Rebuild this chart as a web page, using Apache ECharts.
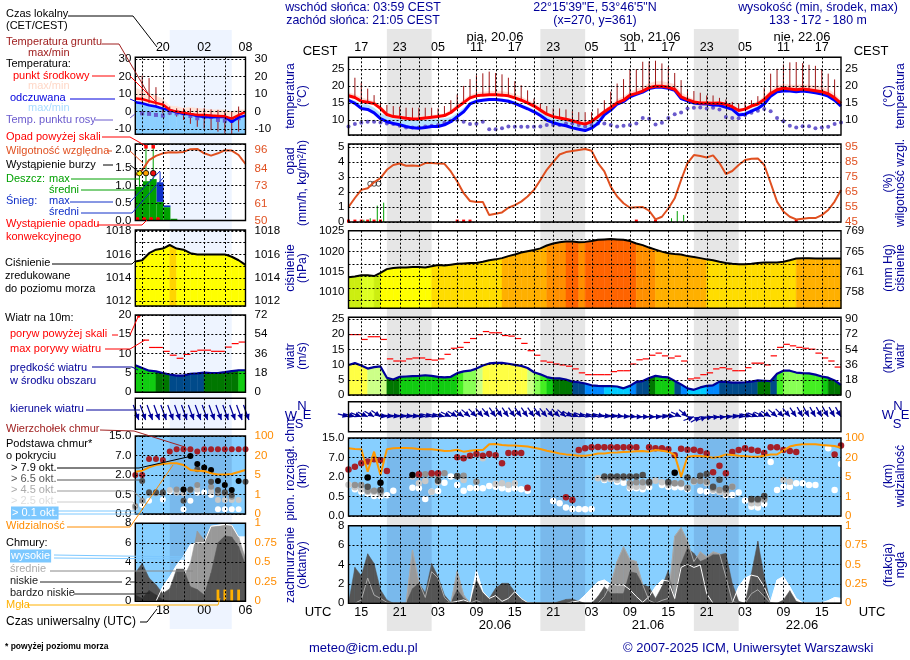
<!DOCTYPE html>
<html>
<head>
<meta charset="utf-8">
<title>meteogram</title>
<script src="https://cdn.jsdelivr.net/npm/echarts@6/dist/echarts.min.js"></script>
<style>html,body{margin:0;padding:0;background:#fff}#chart{width:910px;height:660px}</style>
</head>
<body>
<div id="chart"></div>
<script>
// hours are counted from the first column: main chart 13 UTC 19.06, side chart 14 UTC
var cestTicks = ['17','23','05','11','17','23','05','11','17','23','05','11','17'];
var utcTicks = ['15','21','03','09','15','21','03','09','15','21','03','09','15'];
var sideCestTicks = ['20','02','08'];
var sideUtcTicks = ['18','00','06'];
var baseLabels = ['0.0','0.5','2.0','7.0','15.0'];
var visLabels = ['0','1','5','20','100'];
var mmHgLabels = {1010:'758',1015:'761',1020:'765',1025:'769'};
var nightSpans = [[6,13],[30,37],[54,61]];
var sideNightSpans = [[5,14]];

// main chart, one value per hour
var tempMid = [17.1,16.6,15.5,15.2,14.8,13.4,11.6,11,10.8,10.5,10.3,10.4,10.6,10.8,11,11.3,12.2,13.7,15.1,16.5,17.1,17.3,17.4,17.4,17.3,17.1,16.5,15.8,15,14.1,12.9,11.7,11,10.6,10.2,9.8,9.2,8.8,9.5,11,12.4,13.7,15,15.8,17.3,17.8,18.5,19.5,19.9,19.9,19.6,19,16.8,16,15.3,15,15,14.9,15,14.6,13.9,12.8,13.2,14.1,14.7,16,17.8,18.9,19.3,19.1,18.9,19.1,18.9,18.6,18.3,17.7,16.5,14.9];
var tempMax = [18,17.5,16.5,16,15.5,14.2,12.2,11.6,11.3,11,10.9,11,11.2,11.4,11.6,11.8,13,14.5,16,17.3,18,18.2,18.4,18.5,18.4,18.1,17.5,16.8,15.9,15,13.8,12.4,11.6,11.1,10.7,10.2,9.8,9.4,10,11.6,13,14.4,16,16.9,18.2,19,19.7,20.7,21.3,21.3,21,20.4,18,17,16,15.6,15.5,15.4,15.4,15,14.3,13.2,13.6,14.6,15.5,17,18.8,20,20.5,20.3,20.2,20.4,20.2,20,19.7,19,17.7,15.8];
var apparent = [15.8,14.9,13.4,13.1,12.1,10.4,9.5,9,8.6,8.1,7.7,7.6,7.8,8.1,8.1,8.6,9.5,11,12.4,14.7,15.5,15.8,16,16,15.8,15.5,14.9,14.1,13.3,12.4,11.3,10,9.2,8.7,8.3,7.7,7.3,6.9,7.6,9,11.5,12.9,14.7,15.4,16.8,17.5,18.2,19.2,19.6,19.6,19.3,18.7,16.3,15.6,15,14.8,14.7,14.4,14.3,13.7,13.1,11.5,11.7,12.6,13.4,14.7,17,18.3,18.5,18.5,18.3,18.5,18.3,18,17.6,17,15.8,14.1];
var apparentMax = [16.2,15.6,14.6,14.5,13.5,12,11,10.3,10.3,10.2,10,9.8,10,10.2,10.3,10.4,10.8,12,13.5,15.2,16,16.2,16.4,16.4,16.2,16,15.4,14.6,13.9,13,12.2,11,10.2,10,9.8,9.5,9,8.7,9.2,10.4,12,13.4,15,15.7,17,17.7,18.4,19.4,19.9,19.9,19.6,19,16.7,15.9,15.2,15,14.9,14.6,14.5,14,13.5,12.1,12.3,13.2,14,15,17.3,18.6,18.9,18.8,18.6,18.8,18.6,18.3,17.9,17.3,16.1,14.4];
var groundMax = [17.1,22.4,20.9,19.2,17.3,15,14.4,14.1,13.9,13.6,13.6,13.6,13.6,13.6,13.4,14.1,15.8,17.5,20,22,23.1,23.7,24.2,23.8,23.4,22.4,21.4,20.2,18.7,16.3,14.9,14.1,13.4,13.4,13.1,12.6,12.3,12.3,12.3,13.4,15.8,18.3,20.7,22,25,24.9,27.1,27.2,27.4,26.6,25.7,23.8,21.7,19,18.5,18,17.2,17.2,16.5,16,15.3,14.9,15.3,15.8,17,19.5,23.6,25,26.3,26.9,27,26.7,26.2,25.9,25,23.6,21.9];
var dewPoint = [8.1,8.8,9.2,9.5,9.5,9.3,9,8.8,8.3,7.8,7.8,7.8,8.1,8.3,8.5,9.2,9.8,10,9.5,8.8,8.9,9.5,7.3,7.3,7.6,8.1,8,8,8,8,8.1,8.5,8.5,8.5,9,9,8.5,8.1,8.5,9,9,8.5,8.1,8.3,8.5,9,10.6,10.4,8.7,9.2,10.6,11.7,12.2,13.4,13.6,13.7,13.4,13.6,13.1,10.9,10.6,10.5,11.5,12.1,12.7,13.2,12.6,10.6,9.6,8.3,7.8,8.2,8.2,7.6,7.8,8,8.8,9.3];
var humidity = [55,61,66.4,67.5,71.5,74.2,79.8,83,84,82.5,82.7,82.3,84.3,84.3,84,83.8,78.7,72,64.2,59,58.4,58.4,49.6,50.5,51.4,54.5,56.3,58.6,62,66.4,73,79.8,85,90,91.6,92.3,93,93.7,92.5,84.3,78.7,68.6,62,57.5,54.5,54.8,55,52.5,46.7,48.5,54,60.8,73,84.3,89.6,89,88,89.4,84.3,77,79,83,86.3,87.2,87.4,83,71,58.6,52,48.5,46.7,47.2,47.6,47.6,49.6,53,58.6,66.4];
var rainAt = [2.4,3.4,4.5,5.5,50.5,51.4,52.4];
var rainMax = [0.15,0.25,1.09,1.29,0.25,0.73,0.47];
var stormAt = [3.4,4,4.7];
var stormLevel = [2.55,2.55,2.55];
var convectiveAt = [0,1,2,3,4,5,17,18,19,45,48,70];
var pressure = [1013.7,1013.9,1014.2,1014.2,1014,1014.8,1015.7,1016,1016.1,1016.1,1016.2,1016.2,1016.1,1016.4,1016.7,1016.6,1016.8,1017,1017.1,1017.2,1017.2,1017.5,1017.9,1018.1,1018.4,1018.9,1019.3,1019.8,1020.1,1020.4,1020.8,1021.5,1022,1022.3,1022.5,1022.5,1022.3,1022.4,1022.6,1022.9,1023,1023.1,1023,1022.9,1022.6,1022,1021.6,1021,1020.5,1020,1019.6,1019.4,1019.3,1018.9,1018.7,1018.4,1018.1,1017.9,1017.5,1017.2,1017,1016.9,1016.9,1017,1017.2,1017.3,1017.3,1017.3,1017.5,1017.9,1018.3,1018.4,1018.4,1018.3,1018.3,1018.3,1018.3,1018.3];
var windSpeed = [9.9,10.5,9.7,8.7,9.2,9.4,5.7,5.1,6,6.1,6.2,6.3,6.5,6.3,6,5.8,6,7.2,7.8,8,8.7,9.7,10.4,10.6,10.6,10.3,9.9,9.6,8.9,7.5,6.8,5.9,5.5,5.5,5.1,4.4,4.2,3.8,3.2,3,2.9,2.9,2.8,2.2,3,4.3,4.6,5.6,6.3,6,5.8,4.6,3.5,2.2,1.7,2.5,3,3.2,4.4,4.3,4.1,4.1,4.2,4.4,4.8,4.7,4.6,7,8,8,7.4,7.2,7.1,6.7,6.1,5.7,4.8,3.3];
var windGust = [19.9,19.9,18.3,19.2,19.2,18.3,11.9,11.2,11.2,11.9,12.2,12.2,11.7,11.5,11.9,13.4,15.4,15.7,17.3,18.6,19.9,20.9,20.5,20.5,19.6,19.4,18.6,17,14.6,13.1,11.2,10.8,10.2,9.9,9.5,8.6,7.3,6.7,6.7,6.7,6.7,7.7,8,8,10.2,11.6,11.9,13.1,13.8,12.9,12.2,12.8,11.2,5.3,5.6,6.7,7.3,8.6,9,8.6,8,8,9,10.5,10.5,9.9,12.9,15.7,16.7,16.2,15.7,15.4,15.1,13.8,12.2,11.2,9.2];
var windFrom = [285,285,290,295,300,305,280,280,280,280,280,280,280,285,285,285,295,300,305,310,315,320,320,325,325,325,325,325,325,325,325,320,320,315,310,300,290,290,285,285,285,280,280,280,275,275,270,270,270,270,275,280,295,310,250,240,250,260,265,265,270,275,280,285,290,295,300,310,315,320,325,330,330,330,330,330,330,330];

// cloud base and visibility sit on a stepped axis: 0 = 0 km, 1 = 0.5, 2 = 2, 3 = 7, 4 = 15
var visibility = [3.47,3.44,3.42,2.27,3.3,2.1,3.42,3.47,3.49,3.49,3.47,3.44,3.42,3.42,3.38,3.33,3.35,3.4,3.3,3.35,3.38,3.38,3.68,3.69,3.64,3.62,3.62,3.59,3.56,3.5,3.44,3.35,3.28,3.21,3.16,3.13,3.09,3.09,3.13,3.21,3.21,3.25,3.26,3.28,3.3,3.32,3.33,3.3,3.38,3.35,3.3,3.13,2.02,3.04,3.08,3.08,3.04,2.99,3.04,3.16,3.13,3.09,3.08,3.04,3.04,3.09,3.15,3.16,3.35,3.56,3.64,3.68,3.68,3.68,3.64,3.62,3.59,3.5];
var cloudTop = [[0,2.39],[1,2.53],[2,2.7],[3,2.79],[4,2.91],[5,2.87],[6,2.31],[11,2.14],[13,2.19],[14,2.19],[17,3.01],[18,2.96],[19,3.09],[20,3.18],[21,3.09],[22,3.18],[23,3.11],[24,2.7],[25,3.23],[26,3.23],[27,3.23],[28,1.45],[34,0.96],[35,0.82],[36,3.38],[37,3.47],[38,3.52],[39,3.54],[40,3.52],[41,3.52],[42,3.52],[43,3.52],[44,3.52],[45,3.52],[47,3.52],[48,3.47],[49,3.47],[50,3.42],[51,3.11],[52,3.45],[53,3.4],[54,3.4],[55,3.33],[56,3.2],[57,2.24],[58,2.58],[59,2.19],[60,3.28],[61,3.38],[62,3.47],[63,3.4],[64,3.35],[65,3.23],[66,3.52],[67,3.52],[68,3.38],[69,3.33],[70,3.28],[76,3.15],[77,3.62]];
var base79 = [[3,1.98],[5,1.71],[10,2.1],[51,2.22]];
var base65 = [[3,1.5],[5,1.33],[14,1.81],[17,2.05],[40,2.03],[41,2.03],[42,2.03],[43,2.03],[44,2.03],[45,2.03],[46,2.1],[47,1.74],[50,1.74],[53,1.97],[55,2.07],[56,2.15],[57,1.5],[58,1.86],[59,1.42],[63,0.87],[64,0.87],[65,1.03]];
var base45 = [[1,1.59],[2,1.59],[3,1.3],[4,1.3],[5,1.25],[11,2.1],[12,2.14],[13,2.14],[14,2.1],[15,2.19],[17,2.02],[18,2.07],[20,1.76],[40,1.97],[41,1.97],[42,1.97],[43,1.97],[44,1.68],[45,1.73],[46,1.73],[47,1.68],[50,1.68],[51,1.68],[52,1.68],[53,1.45],[54,1.79],[55,1.79],[56,1.76],[57,1.42],[58,1.33],[59,1.33],[60,1.5],[63,0.82],[64,0.82],[65,0.87]];
var base25 = [[0,1.6],[1,1.47],[2,1.37],[3,1.25],[4,1.25],[5,1.16],[10,2.02],[11,1.68],[12,1.79],[13,1.25],[14,1.73],[18,1.85],[21,2.96],[23,1.64],[24,1.68],[25,1.59],[26,1.68],[28,1.42],[39,1.93],[40,1.9],[41,1.9],[42,1.85],[44,1.5],[45,1.5],[46,1.5],[47,1.76],[48,1.81],[49,1.73],[50,1.59],[51,1.68],[52,1.64],[53,1.42],[54,1.76],[55,1.85],[56,1.68],[57,1.33],[58,1.25],[59,1.16],[60,1.5],[63,0.65],[64,0.65],[65,0.82],[68,1.85],[69,1.76]];
var base01 = [[0,1.6],[1,1.37],[2,1.25],[3,1.16],[4,1.03],[5,1.03],[6,1.06],[7,1.3],[10,1.45],[11,1.42],[12,0.87],[13,1.25],[14,1.28],[15,1.71],[16,2.02],[17,1.59],[18,1.3],[19,1.44],[20,1.42],[21,1.42],[22,1.54],[23,1.5],[24,1.42],[25,1.37],[26,1.42],[27,1.37],[28,1.3],[32,0.77],[33,0.65],[34,0.43],[35,0.36],[36,0.36],[37,0.34],[38,0.36],[40,1.85],[41,1.9],[42,1.76],[43,1.71],[44,1.42],[45,1.42],[46,1.37],[47,1.47],[49,1.59],[50,1.5],[51,1.47],[52,1.47],[53,1.37],[55,1.3],[56,1.25],[57,1.3],[58,1.25],[59,1.08],[60,1.08],[61,1.21],[62,0.79],[63,0.48],[64,0.44],[65,0.62],[66,2.77],[67,1.33],[68,1.5],[69,1.5],[70,1.68],[71,1.68],[72,1.59],[73,1.59],[75,3.47],[76,1.33],[77,2.67]];

var cloudHigh = [0,0,0,0,0,0,0,0,0,0,0,0,0,0,0,0,0.07,0.2,0.35,0.1,3.4,1.2,0.5,0.8,0.2,0.5,1.2,0.5,0.07,0,0,0,0,0,0,0.14,0.24,0.85,1.55,2.2,2.4,1.96,1.9,1.9,1.4,0.7,0.1,0.7,1.7,2.4,2.3,0.5,3.7,4.05,3.7,3.95,1,0,0,0,0.05,1.7,2.6,2.9,2.75,1.7,0.17,2.4,2.75,1.7,0.5,0.05,0,0,0.05,0.27,0.6,0.5];
var cloudMid = [0,0,0.35,2.6,0.85,0.5,0.1,0,0,0,5.5,2.2,0.6,3.26,2.6,0.6,0,3.3,0.85,0,0.3,0,0,0,0,0,0,0,0,0,0,0,0,0,0,0,0,0,0,0,0.7,2,4.3,5.84,4.5,4.3,1.9,0.3,0,0.3,0.5,6.9,7.8,6.4,4.3,5.3,4.8,5.3,5.1,2.75,0.2,0,0,1,1.4,0.7,0,0,0,0,0,0,0,0,0,0,0,0];
var cloudLow = [0,3.7,2.85,5.1,4.1,1.4,0.35,0,0,0,1.5,2.06,1.1,4.1,2.75,0.85,0.07,1.4,0.5,0.1,2.4,1.1,0.5,1.55,2.06,2.06,1.2,0.5,0.07,0,0,0,0,0.2,0.4,0.45,0.2,0,0,0.7,1.7,1,1,1,3.26,3.1,1.9,1.7,0.5,1.7,3.4,0.2,4.1,5.7,5.15,4.3,4.6,5,5,5.15,2.06,0.2,0,3.1,6.4,2.75,0.07,0,0.35,1.3,0.2,0,0,0,0,0,0,0];

// side chart (legend panels), one value per hour
var sideMid = [7.5,7.2,6,5,4,1,0,-0.6,-1.3,-1.9,-1.9,-2.3,-2.5,-2.7,-4,-2,-0.2];
var sideMax = [13.5,12,10.6,9,7.1,3.3,2.9,1.9,2.5,1.9,1.5,1,1,1,0,1,1];
var sideApparent = [5.4,4.8,3.6,2.9,1.7,0.8,-0.4,-1.2,-1.5,-2.5,-3.1,-3.3,-3.1,-2.9,-6,-3.3,-2.3];
var sideAppMin = [-13,-13,-13,-13,-13,-13,-13,-13,-13,-13,-13,-13,-13,-13,-13,-13,-13];
var sideGroundMax = [7.5,20.6,19.2,14,5.8,2.9,1.9,1.9,1.9,1.9,1.9,1.3,1,0,0,2.9];
var sideGroundMin = [7.5,5.8,4.8,2.9,-1,-2,-2.9,-4.8,-7,-8.7,-9.6,-10.6,-11.5,-12.5,-12.9,-11.5];
var sideDew = [null,-1,-1.3,-1.9,-2.3,-0.6,-1,-1,-2.5,-3.8,-2.9,-2.9,-4.8,-5.2,-5.2,-3.8,null];
var sideHumidity = [79.7,83,89.6,92.3,94,94.7,94.5,94.9,96.7,96.9,94,92.5,94,96,95.8,92.9,87];
var sideRain = [0.96,1.12,1.18,0.53,0.38,0.05];
var sideRainMaxAt = [0.6,1.55,2.6];
var sideRainMax = [1.35,2.1,2.1];
var sideRainBase = [0.96,1.12,1.18];
var sideSnowTop = [1.09,0.43];
var sideSnowBase = [0.53,0.38];
var sidePressure = [1015.4,1015.5,1016.1,1016.4,1016.5,1016.8,1016.5,1016.4,1016.1,1016,1016,1016,1016,1016,1015.8,1015.5,1015.1];
var sideWind = [7,6.3,5.6,5.4,5,4.6,4.3,4.3,4.8,4.9,5.1,5,5,5.2,5.5,5.7,5.7];
var sideGust = [null,13.5,11.6,11.6,10.6,9.6,8.8,9.8,10.6,10.9,10.9,10.6,10.6,11.7,12.6,13];
var sideWindFrom = [340,340,340,340,340,340,340,340,340,340,340,340,340,340,340,340,340];
var sideVis = [2.17,2.22,2.39,2.51,2.56,2.6,2.6,2.51,2.26,2.22,2.2,2.09,2.03,2.03,2.05,2.15,2.26];
var sideTop = [[0,2],[1,2],[2,2.82],[3,2.82],[4,2.77],[5,3.2],[6,3.32],[7,3.32],[8,3.32],[9,3.2],[10,3.32],[11,3.32],[12,3.32],[13,3.32],[14,3.32],[15,3.32],[16,3.32]];
var sideBase79 = [[7,1.26],[8,2.97],[9,2.56],[10,2.38],[11,2.26],[12,1.69],[13,1.49],[14,1.23],[15,1.69]];
var sideBase65 = [[1,1.69],[2,1.11],[3,1.11],[4,1.11],[7,0.68],[8,1.26],[9,2.29],[11,1.66],[12,1.23],[13,1.11],[14,0.97],[16,1.66]];
var sideBase45 = [[0,0.41],[1,0.68],[2,1.06],[3,1.06],[4,1.06],[6,1.26],[7,1.26],[8,1.23],[9,1.49],[10,2.26],[11,1.4],[12,1.06],[13,1.06],[14,0.89]];
var sideBase25 = [[0,0.29],[5,1.23],[6,1.09],[7,1.06],[8,1.23],[9,1.26],[11,1.15],[12,0.72],[13,0.72],[14,0.72],[15,0.72]];
var sideBase01 = [[1,0.46],[2,0.68],[4,0.75],[5,1.15],[6,1.15],[7,0.24],[8,0.68],[9,1.09],[10,1.12],[11,0.97],[12,0.24],[13,0.24],[14,0.24],[15,0.24]];
var sideHigh = [0,0,0,0,1.5,2.5,3.7,4.6,5.8,6,6,7.7,7.8,7.9,7.8,6.6,6.6];
var sideMidCloud = [0,0,0,0,0,0.8,1.3,2.4,3.9,7.2,6.3,7.7,7.7,7.8,7.8,6.6,4.4];
var sideLow = [2.9,3.9,2.4,1.7,0.8,1.3,3.3,3.3,1.5,1.2,0.65,2.9,6,6.7,6.6,5.6,3.7];
var sideVeryLow = [0.65,0.3,1.1,0.65,0.14,0,0,0,0,0,0,0,0,0,0,0,0];
var sideFogAt = [12,13,14,15];
var sideFog = [0.15,0.15,0.15,0.15];

var FONT = '"Liberation Sans", Arial, sans-serif';
var NAVY = '#000099';
var ORANGE = '#ff8c00';
var RUST = '#e05020';
var CLOUD_BG = '#87cfff';
var CLOUD_NIGHT = '#79b9ec';

var option = {animation: false, backgroundColor: '#fff', grid: [], xAxis: [], yAxis: [], series: [], graphic: {elements: []}};
var mainBox = {left: 348.5, width: 492.5, count: 77, gridX: [2,5,8,11,14,17,20,23,26,29,32,35,38,41,44,47,50,53,56,59,62,65,68,71,74], labelX: [2,8,14,20,26,32,38,44,50,56,62,68,74]};
var sideBox = {left: 135.3, width: 110.2, count: 16, gridX: [1,4,7,10,13], labelX: [4,10,16]};

function hidden() { return {show: false}; }

// one grid with a left and a right value axis; returns the panel number
function addPanel(box, top, bottom, cfg) {
    var idx = option.grid.length;
    option.grid.push({left: box.left, width: box.width, top: top, height: bottom - top, show: cfg.noFrame ? false : true, z: 6,
        backgroundColor: 'transparent', borderColor: '#000', borderWidth: cfg.noFrame ? 0 : 1.4, containLabel: false});
    var x = {gridIndex: idx, type: 'value', min: 0, max: box.count, show: !cfg.noFrame, z: 5,
        axisLine: hidden(), axisTick: hidden(), splitLine: hidden(), axisLabel: {show: false}};
    if (cfg.xLabels) {
        x.position = cfg.xPos;
        x.axisLabel = {show: true, customValues: box.labelX, color: '#000', fontSize: 12.5, fontFamily: FONT, margin: 3,
            formatter: function (v) { return cfg.xLabels[box.labelX.indexOf(v)]; }};
    }
    option.xAxis.push(x);
    var labelFmt = cfg.fmt || function (v) { return String(v); };
    option.yAxis.push({gridIndex: idx, type: 'value', position: 'left', min: cfg.min, max: cfg.max, show: !cfg.noFrame, z: 5,
        axisLine: hidden(), axisTick: hidden(),
        splitLine: {show: !!cfg.ticks, customValues: cfg.ticks, lineStyle: {color: '#000', type: [2, 2], width: 1}},
        axisLabel: {show: !!cfg.ticks, customValues: cfg.ticks, formatter: labelFmt, color: '#000', fontSize: 11.5, fontFamily: FONT, margin: 4}});
    var rMin = cfg.rMin === undefined ? cfg.min : cfg.rMin;
    var rMax = cfg.rMax === undefined ? cfg.max : cfg.rMax;
    var rTicks = cfg.rTicks || cfg.ticks;
    option.yAxis.push({gridIndex: idx, type: 'value', position: 'right', min: rMin, max: rMax, show: !cfg.noFrame, z: 5,
        axisLine: hidden(), axisTick: hidden(), splitLine: hidden(),
        axisLabel: {show: !!rTicks, customValues: rTicks, formatter: cfg.rFmt || labelFmt, color: cfg.rColor || '#000', fontSize: 11.5, fontFamily: FONT, margin: box === sideBox ? 9 : 4}});
    if (!cfg.noFrame) {
        // hour lines snapped to whole pixels so every dash stays crisp
        custom(idx, false, box.gridX.map(function (h) { return [h, cfg.min, cfg.max]; }), 5, function (params, api) {
            var a = api.coord([api.value(0), api.value(1)]);
            var b = api.coord([api.value(0), api.value(2)]);
            var px = Math.round(a[0]) + 0.5;
            return {type: 'line', shape: {x1: px, y1: b[1], x2: px, y2: a[1]}, style: {stroke: '#000', lineWidth: 1, lineDash: [2, 2]}};
        });
    }
    return idx;
}

function indexed(arr) {
    var out = [];
    arr.forEach(function (v, i) { if (v !== null) out.push([i, v]); });
    return out;
}

function custom(p, right, rows, z, renderItem) {
    option.series.push({type: 'custom', silent: true, xAxisIndex: p, yAxisIndex: p * 2 + (right ? 1 : 0), z: z, data: rows, renderItem: renderItem});
}

// polygon strip between two hourly curves; color can depend on the value
function fillBetween(p, lo, hi, color, z) {
    var rows = [];
    for (var i = 0; i < hi.length - 1; i++) {
        rows.push([i, lo[i], hi[i], lo[i + 1], hi[i + 1]]);
    }
    custom(p, false, rows, z, function (params, api) {
        var i = api.value(0);
        var c = typeof color === 'function' ? color(api.value(2)) : color;
        return {type: 'polygon', shape: {points: [
            api.coord([i, api.value(1)]), api.coord([i + 1, api.value(3)]),
            api.coord([i + 1, api.value(4)]), api.coord([i, api.value(2)])
        ]}, style: {fill: c, stroke: c, lineWidth: 0.5}};
    });
}

function flat(value, n) {
    var out = [];
    for (var i = 0; i < n; i++) out.push(value);
    return out;
}

// rectangles: rows are [x0, x1, y0, y1]
function rects(p, rows, color, z) {
    custom(p, false, rows, z, function (params, api) {
        var a = api.coord([api.value(0), api.value(2)]);
        var b = api.coord([api.value(1), api.value(3)]);
        return {type: 'rect', shape: {x: a[0], y: b[1], width: b[0] - a[0], height: a[1] - b[1]}, style: {fill: color}};
    });
}

// vertical lines: rows are [x, y0, y1]
function vlines(p, rows, color, width, z) {
    custom(p, false, rows, z, function (params, api) {
        var a = api.coord([api.value(0), api.value(1)]);
        var b = api.coord([api.value(0), api.value(2)]);
        return {type: 'line', shape: {x1: a[0], y1: a[1], x2: b[0], y2: b[1]}, style: {stroke: color, lineWidth: width}};
    });
}

function gusts(p, arr, z) {
    custom(p, false, indexed(arr), z, function (params, api) {
        var a = api.coord([api.value(0), api.value(1)]);
        var b = api.coord([api.value(0) + 1, api.value(1)]);
        return {type: 'line', shape: {x1: a[0], y1: a[1], x2: b[0], y2: b[1]}, style: {stroke: '#ff0000', lineWidth: 1.2}};
    });
}

function line(p, right, arr, color, width, z) {
    option.series.push({type: 'line', silent: true, xAxisIndex: p, yAxisIndex: p * 2 + (right ? 1 : 0), data: indexed(arr),
        showSymbol: false, connectNulls: false, z: z, lineStyle: {color: color, width: width}, itemStyle: {color: color}});
}

function dots(p, data, color, size, z, symbol, border) {
    option.series.push({type: 'scatter', silent: true, xAxisIndex: p, yAxisIndex: p * 2, data: data, symbol: symbol || 'circle', symbolSize: size, z: z,
        itemStyle: {color: color, borderColor: border || color, borderWidth: border ? 0.8 : 0, opacity: 1}});
}

function arrows(p, rows, len, yLevel, shift, z) {
    custom(p, false, rows, z, function (params, api) {
        var head = api.coord([api.value(0) + shift, yLevel]);
        var rad = api.value(1) * Math.PI / 180;
        var dx = Math.sin(rad), dy = -Math.cos(rad);
        var px = -dy, py = dx;
        var tail = [head[0] + dx * len, head[1] + dy * len];
        var back = [head[0] + dx * 6, head[1] + dy * 6];
        return {type: 'group', children: [
            {type: 'line', shape: {x1: tail[0], y1: tail[1], x2: head[0], y2: head[1]}, style: {stroke: NAVY, lineWidth: 1.2}},
            {type: 'polygon', shape: {points: [head, [back[0] + px * 2.8, back[1] + py * 2.8], [back[0] - px * 2.8, back[1] - py * 2.8]]}, style: {fill: NAVY}}
        ]};
    });
}

function pressureColor(v) {
    if (v < 1014.1) return '#ccee11';
    if (v < 1014.5) return '#ddff22';
    if (v < 1016.3) return '#ffff00';
    if (v < 1018.3) return '#ffdd00';
    if (v < 1021) return '#ffb000';
    if (v < 1022.4) return '#ff9000';
    return '#ff6400';
}
function sidePressureColor(v) {
    return v > 1016.7 ? '#ffd400' : '#ffff00';
}
function windColor(v) {
    if (v < 2.95) return '#00ccff';
    if (v < 3.9) return '#0088ff';
    if (v < 4.7) return '#004a8a';
    if (v < 5.8) return '#007700';
    if (v < 6.6) return '#11cc11';
    if (v < 7.4) return '#44ee22';
    if (v < 8.2) return '#88ff55';
    if (v < 9.6) return '#ccff88';
    return '#ffff44';
}
function sideWindColor(v) {
    if (v < 4.95) return '#004a8a';
    if (v < 5.55) return '#007700';
    return '#11cc11';
}

// night bands behind the whole column
var bgMain = addPanel(mainBox, 29, 631, {noFrame: true, min: 0, max: 1});
rects(bgMain, nightSpans.map(function (s) { return [s[0], s[1], 0, 1]; }), '#e6e6e6', 0);
var bgSide = addPanel(sideBox, 30, 629, {noFrame: true, min: 0, max: 1});
rects(bgSide, sideNightSpans.map(function (s) { return [s[0], s[1], 0, 1]; }), '#eef4ff', 0);

// temperature
var pT = addPanel(mainBox, 57.3, 135, {min: 5.6, max: 28.4, ticks: [10,15,20,25], xLabels: cestTicks, xPos: 'top'});
fillBetween(pT, tempMid, tempMax, '#ffdcd4', 1);
fillBetween(pT, apparent, apparentMax, '#b4e2ff', 1);
vlines(pT, groundMax.map(function (v, i) { return [i, tempMid[i], v]; }), '#a01818', 1, 2);
dots(pT, indexed(dewPoint), '#6a5acd', 4, 2);
line(pT, false, apparent, '#0000ff', 3, 3);
line(pT, false, tempMid, '#ff0000', 3, 4);

// precipitation and humidity
var pR = addPanel(mainBox, 144, 222, {min: 0, max: 5.2, ticks: [0,1,2,3,4,5], rMin: 45, rMax: 97, rTicks: [45,55,65,75,85,95], rColor: RUST});
vlines(pR, rainAt.map(function (x, i) { return [x, 0, rainMax[i]]; }), '#00a000', 1, 2);
dots(pR, convectiveAt.map(function (x) { return [x, 0.06]; }), '#ff0000', 3, 3, 'rect');
dots(pR, stormAt.map(function (x, i) { return [x, stormLevel[i]]; }), 'transparent', 5, 3, 'circle', '#222');
line(pR, true, humidity, RUST, 2, 4);

// pressure
var pP = addPanel(mainBox, 230.7, 308.3, {min: 1006.06, max: 1025.15, ticks: [1010,1015,1020,1025],
    rFmt: function (v) { return mmHgLabels[v]; }});
fillBetween(pP, flat(1006.06, pressure.length), pressure, pressureColor, 2);
line(pP, false, pressure, '#000', 2, 3);

// wind
var pW = addPanel(mainBox, 317.3, 395, {min: 0, max: 25.6, ticks: [0,5,10,15,20,25], rMin: 0, rMax: 92.16, rTicks: [0,18,36,54,72,90]});
fillBetween(pW, flat(0, windSpeed.length), windSpeed, windColor, 2);
line(pW, false, windSpeed, '#000099', 2.2, 3);
gusts(pW, windGust, 3);

// wind direction
var pD = addPanel(mainBox, 401.7, 431.7, {min: 0, max: 1});
arrows(pD, indexed(windFrom), 11, 0.5, 0, 3);

// cloud base
var pB = addPanel(mainBox, 438, 516, {min: 0, max: 4, ticks: [0,1,2,3,4], rColor: ORANGE,
    fmt: function (v) { return baseLabels[v]; }, rFmt: function (v) { return visLabels[v]; }});
rects(pB, [[0, 77, 0, 4]], CLOUD_BG, 1);
rects(pB, nightSpans.map(function (s) { return [s[0], s[1], 0, 4]; }), CLOUD_NIGHT, 1);
dots(pB, base01, '#ffffff', 6.5, 2);
dots(pB, base25, '#c8c8c8', 6.5, 2);
dots(pB, base45, '#929292', 6.5, 2);
dots(pB, base65, '#505050', 6.5, 2);
dots(pB, base79, '#000000', 6.5, 2);
dots(pB, cloudTop, '#a52028', 6.5, 2);
line(pB, false, visibility, '#ff9900', 2, 3);

// cloud cover
var pC = addPanel(mainBox, 525.7, 603.3, {min: 0, max: 8, ticks: [0,2,4,6,8], rMin: 0, rMax: 1, rTicks: [0,0.25,0.5,0.75,1], rColor: ORANGE, xLabels: utcTicks, xPos: 'bottom'});
rects(pC, [[0, 77, 0, 8]], CLOUD_BG, 1);
rects(pC, nightSpans.map(function (s) { return [s[0], s[1], 0, 8]; }), CLOUD_NIGHT, 1);
var noCloud = flat(0, cloudHigh.length);
fillBetween(pC, noCloud, cloudHigh, '#ffffff', 2);
fillBetween(pC, noCloud, cloudMid, '#999999', 2);
fillBetween(pC, noCloud, cloudLow, '#555555', 2);
line(pC, false, cloudHigh, '#ffffff', 1, 3);
line(pC, false, cloudMid, '#aaaaaa', 1, 3);

// side chart: temperature
var sT = addPanel(sideBox, 57.3, 134.3, {min: -13, max: 31.1, ticks: [-10,0,10,20,30], xLabels: sideCestTicks, xPos: 'top'});
fillBetween(sT, sideApparent, sideMax, '#ffe4d8', 1);
fillBetween(sT, sideAppMin, sideApparent, '#8cd0ff', 1);
vlines(sT, sideGroundMax.map(function (v, i) { return [i, sideGroundMin[i], v]; }), '#a01818', 1, 2);
dots(sT, indexed(sideDew), '#6a5acd', 4, 2, 'rect');
line(sT, false, sideApparent, '#0000ff', 2.5, 3);
line(sT, false, sideMid, '#ff0000', 2.5, 4);

// side chart: precipitation and humidity
var sR = addPanel(sideBox, 144, 220.5, {min: 0, max: 2.18, ticks: [0,0.5,1,1.5,2], rMin: 50, rMax: 100.1, rTicks: [50,61,73,84,96], rColor: RUST,
    fmt: function (v) { return v.toFixed(1); }, rFmt: function (v) { return String(v); }});
rects(sR, sideRain.map(function (v, i) { return [i + 0.1, i + 1.1, 0, v]; }), '#00a000', 2);
rects(sR, sideSnowTop.map(function (v, i) { return [i + 3.1, i + 4.1, sideSnowBase[i], v]; }), '#1030c8', 2);
vlines(sR, sideRainMaxAt.map(function (x, i) { return [x, sideRainBase[i], sideRainMax[i]]; }), '#00a000', 1, 3);
vlines(sR, [[3.6, 1.09, 1.39]], '#1030c8', 1, 3);
dots(sR, [[1.55, 2.1], [2.6, 2.1]], '#ff0000', 3.5, 4, 'rect');
dots(sR, [[0.6, 1.35]], '#ffee00', 5.5, 5, 'circle', '#000');
dots(sR, [[1.55, 1.35]], '#ffa000', 5.5, 5, 'circle', '#000');
dots(sR, [[2.6, 1.35]], '#ee1010', 5.5, 5, 'circle', '#000');
dots(sR, [[0.3, 0.04], [1.3, 0.04], [2.3, 0.04], [3.3, 0.04]], '#ff0000', 4, 4);
line(sR, true, sideHumidity, RUST, 2, 4);

// side chart: pressure
var sP = addPanel(sideBox, 230, 306, {min: 1011.6, max: 1018.08, ticks: [1012,1014,1016,1018]});
fillBetween(sP, flat(1011.6, sidePressure.length), sidePressure, sidePressureColor, 2);
line(sP, false, sidePressure, '#000', 2, 3);

// side chart: wind
var sW = addPanel(sideBox, 315, 392.3, {min: 0, max: 20, ticks: [0,5,10,15,20], rMin: 0, rMax: 72, rTicks: [0,18,36,54,72]});
fillBetween(sW, flat(0, sideWind.length), sideWind, sideWindColor, 2);
line(sW, false, sideWind, '#000099', 2.2, 3);
gusts(sW, sideGust, 3);
dots(sW, [[0.5, 19.7]], '#ff0000', 3, 4);

// side chart: wind direction
var sD = addPanel(sideBox, 398.3, 429.3, {min: 0, max: 1});
arrows(sD, indexed(sideWindFrom), 16, 0.3, 0.5, 3);

// side chart: cloud base
var sB = addPanel(sideBox, 436, 514, {min: 0, max: 4, ticks: [0,1,2,3,4], rColor: ORANGE,
    fmt: function (v) { return baseLabels[v]; }, rFmt: function (v) { return visLabels[v]; }});
rects(sB, [[0, 16, 0, 4]], CLOUD_BG, 1);
rects(sB, sideNightSpans.map(function (s) { return [s[0], s[1], 0, 4]; }), CLOUD_NIGHT, 1);
dots(sB, sideBase01, '#ffffff', 6, 2);
dots(sB, sideBase25, '#c8c8c8', 6, 2);
dots(sB, sideBase45, '#929292', 6, 2);
dots(sB, sideBase65, '#505050', 6, 2);
dots(sB, sideBase79, '#000000', 6, 2);
dots(sB, sideTop, '#a52028', 6, 2);
line(sB, false, sideVis, '#ff9900', 2, 3);

// side chart: cloud cover
var sC = addPanel(sideBox, 523.3, 601.3, {min: 0, max: 8, ticks: [0,2,4,6,8], rMin: 0, rMax: 1, rTicks: [0,0.25,0.5,0.75,1], rColor: ORANGE, xLabels: sideUtcTicks, xPos: 'bottom'});
rects(sC, [[0, 16, 0, 8]], CLOUD_BG, 1);
rects(sC, sideNightSpans.map(function (s) { return [s[0], s[1], 0, 8]; }), CLOUD_NIGHT, 1);
var sideNone = flat(0, sideHigh.length);
fillBetween(sC, sideNone, sideHigh, '#ffffff', 2);
fillBetween(sC, sideNone, sideMidCloud, '#999999', 2);
fillBetween(sC, sideNone, sideLow, '#555555', 2);
fillBetween(sC, sideNone, sideVeryLow, '#333333', 2);
line(sC, false, sideHigh, '#ffffff', 1, 3);
rects(sC, sideFogAt.map(function (x, i) { return [x - 0.2, x + 0.2, 0, sideFog[i] * 8]; }), '#ffb000', 3);

// texts around the panels
function text(x, y, s, color, extra) {
    var style = {x: 0, y: 0, text: s, fill: color || '#000', font: '12px ' + FONT, textVerticalAlign: 'middle', textAlign: 'left'};
    var el = {type: 'text', silent: true, z: 30, x: x, y: y, style: style};
    if (extra) {
        if (extra.align) style.textAlign = extra.align;
        if (extra.font) style.font = extra.font;
        if (extra.bg) { style.backgroundColor = extra.bg; style.padding = [1, 1]; }
        if (extra.rotate) el.rotation = Math.PI / 2;
    }
    option.graphic.elements.push(el);
}
function leader(points, color) {
    option.graphic.elements.push({type: 'polyline', silent: true, z: 29, shape: {points: points}, style: {stroke: color, lineWidth: 1, fill: null}});
}

var SIDE_FONT = {font: '11px ' + FONT};
var sideTexts = [
    [6,14,'Czas lokalny','#000'], [6,26,'(CET/CEST)','#000'],
    [6,42,'Temperatura gruntu','#a02020'], [28,53,'max/min','#a02020'],
    [6,64,'Temperatura:','#000'], [13,76,'punkt środkowy','#ff0000'], [28,86,'max/min','#ffd8c8'],
    [10,98,'odczuwana','#0000dd'], [28,108,'max/min','#a8dcff'], [6,120,'Temp. punktu rosy','#6a5acd'],
    [6,137,'Opad powyżej skali','#ff0000'], [6,151,'Wilgotność względna',RUST], [6,165,'Wystąpienie burzy','#000'],
    [6,179,'Deszcz:','#00a000'], [49,179,'max','#00a000'], [49,190,'średni','#00a000'],
    [6,201,'Śnieg:','#1030c8'], [49,201,'max','#1030c8'], [49,212,'średni','#1030c8'],
    [6,224,'Wystąpienie opadu','#ff0000'], [6,237,'konwekcyjnego','#ff0000'],
    [5,263,'Ciśnienie','#000'], [5,276,'zredukowane','#000'], [5,289,'do poziomu morza','#000'],
    [5,318,'Wiatr na 10m:','#000'], [10,334,'poryw powyżej skali','#ff0000'], [10,349,'max porywy wiatru','#ff0000'],
    [10,368,'prędkość wiatru',NAVY], [10,381,'w środku obszaru',NAVY], [10,409,'kierunek wiatru',NAVY],
    [6,429,'Wierzchołek chmur','#a02020'], [6,444,'Podstawa chmur*','#000'], [6,456,'o pokryciu','#000'],
    [11,468,'> 7.9 okt.','#000'], [11,479,'> 6.5 okt.','#555'], [11,490,'> 4.5 okt.','#aaa'], [11,501,'> 2.5 okt.','#ddd'],
    [6,526,'Widzialność',ORANGE], [6,543,'Chmury:','#000'], [10,569,'średnie','#aaa'], [10,581,'niskie','#222'],
    [10,593,'bardzo niskie','#222'], [6,605,'Mgła','#ffb000']
];
sideTexts.forEach(function (t) { text(t[0], t[1], t[2], t[3], SIDE_FONT); });
text(6, 622, 'Czas uniwersalny (UTC)', '#000', {font: '12px ' + FONT});
text(11, 513, '> 0.1 okt.', '#fff', {bg: '#7cc8ff', font: '11px ' + FONT});
text(10, 556, 'wysokie', '#fff', {bg: '#7cc8ff', font: '11px ' + FONT});
text(5, 647, '* powyżej poziomu morza', '#000', {font: 'bold 8.5px ' + FONT});

var leaders = [
    [[[68,16],[133,16],[157,47]],'#000'],
    [[[102,44],[119,44],[150,97]],'#a02020'],
    [[[92,76],[115,76]],'#ff0000'], [[[130,76],[157,103]],'#ff0000'],
    [[[70,99],[115,99]],'#0000dd'], [[[130,99],[137,102]],'#0000dd'],
    [[[95,120],[113,120]],'#6a5acd'], [[[130,118],[135,114]],'#6a5acd'],
    [[[102,137],[130,137],[146,146]],'#ff0000'],
    [[[107,151],[112,151]],RUST], [[[130,151],[143,163]],RUST],
    [[[103,165],[113,165]],'#000'], [[[130,165],[139,172]],'#000'],
    [[[71,179],[139,179]],'#00a000'], [[[81,190],[137,190]],'#00a000'],
    [[[70,202],[113,202]],'#1030c8'], [[[130,202],[160,171]],'#1030c8'],
    [[[81,213],[132,213],[163,178]],'#1030c8'],
    [[[97,225],[142,225],[147,220]],'#ff0000'],
    [[[52,264],[132,264],[135,261]],'#000'],
    [[[112,335],[118,335]],'#ff0000'], [[[130,335],[138,317]],'#ff0000'],
    [[[105,349],[130,349],[145,340]],'#ff0000'],
    [[[92,367],[132,367],[138,370]],NAVY],
    [[[86,410],[140,410]],NAVY],
    [[[100,430],[134,431],[185,447]],'#a02020'],
    [[[57,468],[139,468],[192,456]],'#000'],
    [[[57,480],[143,480]],'#555'],
    [[[57,491],[133,491],[143,500]],'#999'],
    [[[57,502],[133,502],[137,507]],'#ccc'],
    [[[57,511],[143,511]],'#7cc8ff'], [[[57,514],[143,514]],'#7cc8ff'],
    [[[67,527],[130,527],[173,465]],ORANGE],
    [[[54,555],[185,557]],'#7cc8ff'], [[[54,558],[185,559]],'#7cc8ff'],
    [[[50,571],[193,571]],'#888'],
    [[[40,582],[122,582]],'#222'], [[[130,582],[135,582]],'#222'],
    [[[74,594],[135,594],[150,593]],'#222'],
    [[[27,605],[218,605],[220,598]],'#ffb000'],
    [[[140,622],[147,622],[157,609]],'#000']
];
leaders.forEach(function (l) { leader(l[0], l[1]); });

var headTexts = [
    [363,8,'wschód słońca: 03:59 CEST'], [363,21,'zachód słońca: 21:05 CEST'],
    [595,8,'22°15\'39"E, 53°46\'5"N'], [595,21,'(x=270, y=361)'],
    [818,8,'wysokość (min, środek, max)'], [818,21,'133 - 172 - 180 m']
];
headTexts.forEach(function (t) { text(t[0], t[1], t[2], NAVY, {align: 'center', font: '12.4px ' + FONT}); });
[[495,37,'pią, 20.06'],[650,37,'sob, 21.06'],[802,37,'nie, 22.06'],[320,51,'CEST'],[871,51,'CEST'],[318,612,'UTC'],[872,612,'UTC'],[495,625,'20.06'],[648,625,'21.06'],[802,625,'22.06']]
    .forEach(function (t) { text(t[0], t[1], t[2], '#000', {align: 'center', font: '13px ' + FONT}); });
text(309, 648, 'meteo@icm.edu.pl', NAVY, {font: '13px ' + FONT});
text(623, 648, '© 2007-2025 ICM, Uniwersytet Warszawski', NAVY, {font: '13px ' + FONT});

var sideTitles = [
    [291,96,'temperatura'], [303,96,'(°C)'], [291,161,'opad'], [303,183,'(mm/h, kg/m²/h)'],
    [291,268,'ciśnienie'], [303,268,'(hPa)'], [291,356,'wiatr'], [303,356,'(m/s)'],
    [291,468,'pion. rozciągł. chm.'], [303,476,'(km)'], [291,565,'zachmurzenie'], [303,565,'(oktanty)'],
    [901,96,'temperatura'], [889,96,'(°C)'], [901,183,'wilgotność wzgl.'], [889,183,'(%)'],
    [901,268,'ciśnienie'], [889,268,'(mm Hg)'], [901,356,'wiatr'], [889,356,'(km/h)'],
    [901,476,'widzialność'], [889,476,'(km)'], [901,565,'mgła'], [889,565,'(frakcja)']
];
sideTitles.forEach(function (t) { text(t[0], t[1], t[2], NAVY, {align: 'center', rotate: true, font: '12.2px ' + FONT}); });
[[291,416,'W'],[302,406,'N'],[307,415,'E'],[299,424,'S'],[888,415,'W'],[898,406,'N'],[905,415,'E'],[897,424,'S']]
    .forEach(function (t) { text(t[0], t[1], t[2], NAVY, {align: 'center', font: '13px ' + FONT}); });

var chart = echarts.init(document.getElementById('chart'));
chart.setOption(option);
</script>
</body>
</html>
